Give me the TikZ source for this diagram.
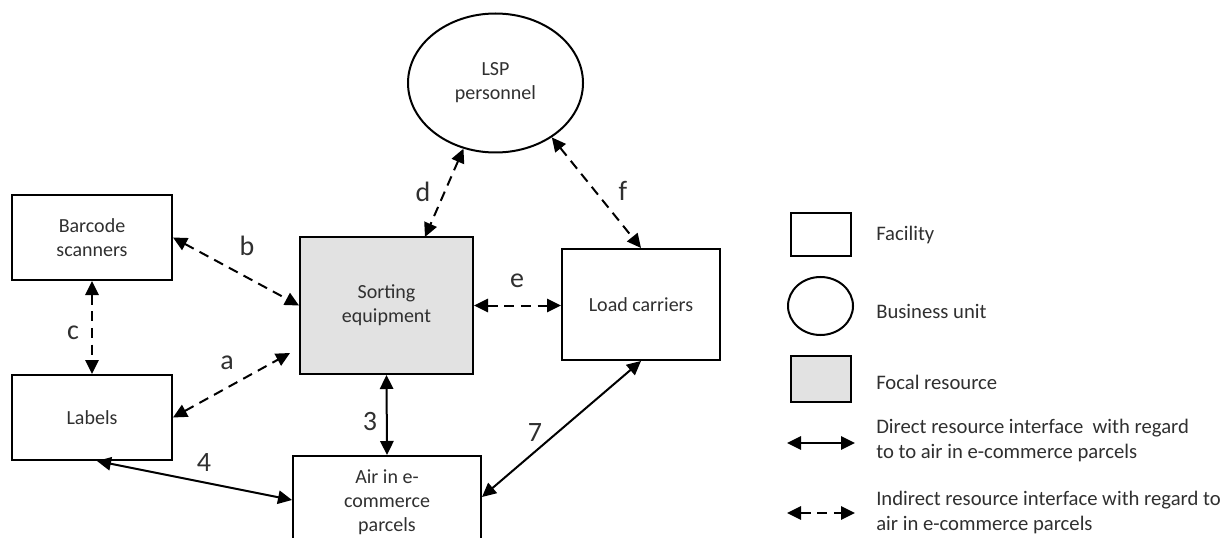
\documentclass[tikz,border=0pt]{standalone}
\usepackage{fontspec}
\setmainfont{Carlito}
\usetikzlibrary{arrows.meta,shapes.geometric,calc}
\definecolor{txt}{HTML}{303030}
\definecolor{focal}{HTML}{E2E2E2}
\tikzset{
  box/.style={draw=black, line width=1.5pt, inner sep=0pt, align=center,
    text=txt, font=\fontsize{15}{18}\selectfont},
  unit/.style={box, ellipse},
  focalbox/.style={box, fill=focal},
  link/.style={line width=1.5pt, {Triangle[length=10.5pt,width=10pt]}-{Triangle[length=10.5pt,width=10pt]}},
  direct/.style={link},
  indirect/.style={link, dash pattern=on 7.5pt off 5pt},
  tag/.style={text=txt, font=\fontsize{21}{24}\selectfont, inner sep=0pt},
  legtext/.style={text=txt, font=\fontsize{15.5}{18.75}\selectfont, anchor=west, align=left, inner sep=0pt}
}
\begin{document}
\begin{tikzpicture}[x=0.75pt,y=-0.75pt]
\clip (0,0) rectangle (1227,538);
\fill[white] (0,0) rectangle (1227,538);

% resources
\node[box, minimum width=120pt, minimum height=63.75pt] (barcode) at (92,237.5) {Barcode\\scanners};
\node[box, minimum width=120pt, minimum height=63.75pt] (labels) at (92,417.5) {Labels};
\node[focalbox, minimum width=129.75pt, minimum height=102.75pt] (sort) at (386.5,305.5) {Sorting\\equipment};
\node[box, minimum width=118.5pt, minimum height=83.25pt] (load) at (641,304.5) {Load carriers};
\node[box, minimum width=141pt, minimum height=69pt] (air) at (387,502) {Air in e-\\commerce\\parcels};
\node[unit, minimum width=131.25pt, minimum height=104.25pt] (lsp) at (495.5,83) {LSP\\personnel};

% interfaces
\coordinate (aend) at (290,353);
\coordinate (dend) at (425,237);
\draw[indirect] (barcode.east) -- (sort.west);
\draw[indirect] (labels.east) -- (aend);
\draw[indirect] (barcode.south) -- (labels.north);
\draw[indirect] (lsp.244) -- (dend);
\draw[indirect] (lsp.316) -- (load.north);
\draw[indirect] (sort.east) -- (sort.east -| load.west);
\draw[direct] (sort.south) -- (air.north);
\draw[direct] ($(labels.south)+(5,0)$) -- ($(air.west)+(0,-2)$);
\draw[direct] (load.south) -- ($(air.east)+(0,-5)$);

% interface tags
\node[tag] (tb) at (247,246) {b};
\node[tag] (tc) at (73,333) {c};
\node[tag] (ta) at (227,363) {a};
\node[tag] (td) at (423,192) {d};
\node[tag] (tf) at (623,191) {f};
\node[tag] (te) at (517,281) {e};
\node[tag] (t3) at (370,422) {3};
\node[tag] (t4) at (204,463) {4};
\node[tag] (t7) at (535,433) {7};

% legend
\node[box, minimum width=45pt, minimum height=32.25pt] (lfac) at (821,234.5) {};
\node[legtext] (lfact) at (876,235) {Facility};
\node[unit, minimum width=48.75pt, minimum height=43.5pt] (lbus) at (820.5,306) {};
\node[legtext] (lbust) at (876,311) {Business unit};
\node[focalbox, minimum width=45pt, minimum height=34.5pt] (lfoc) at (821,379) {};
\node[legtext] (lfoct) at (876,382) {Focal resource};
\coordinate (ld1) at (787,443);
\coordinate (ld2) at (855,443);
\draw[direct] (ld1) -- (ld2);
\node[legtext] (ldt) at (876,440.5) {Direct resource interface\ \ with regard\\to to air in e-commerce parcels};
\coordinate (li1) at (787,513);
\coordinate (li2) at (855,513);
\draw[indirect] (li1) -- (li2);
\node[legtext] (lit) at (876,512.5) {Indirect resource interface with regard to\\air in e-commerce parcels};
\end{tikzpicture}
\end{document}
